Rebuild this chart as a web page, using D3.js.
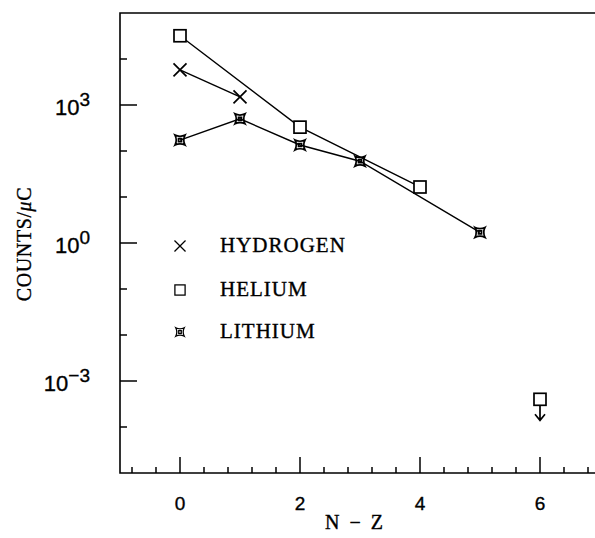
<!DOCTYPE html>
<html>
<head>
<meta charset="utf-8">
<script src="https://cdn.jsdelivr.net/npm/d3@7"></script>
<style>
  body { margin: 0; background: #fff; }
  svg { display: block; }
  text { fill: #000; stroke: #000; stroke-width: 0.35px; }
</style>
</head>
<body>
<div id="chart"></div>
<script>
// N - Z values and counts per microcoulomb
const hydrogenX = [0, 1];
const hydrogenY = [5800, 1500];
const heliumX = [0, 2, 4];
const heliumY = [32000, 330, 16.5];
const heliumLimitX = [6];
const heliumLimitY = [4e-4];
const lithiumX = [0, 1, 2, 3, 5];
const lithiumY = [173, 500, 135, 60, 1.7];

const xTicks = [0, 2, 4, 6];
const yLabelExps = [3, 0, -3];
const legendNames = ["HYDROGEN", "HELIUM", "LITHIUM"];

const width = 595, height = 538;
const margin = {top: 13, right: -5, bottom: 65, left: 120};
const innerWidth = width - margin.left - margin.right;
const innerHeight = height - margin.top - margin.bottom;

const svg = d3.select("#chart").append("svg")
  .attr("width", width)
  .attr("height", height);

const g = svg.append("g")
  .attr("transform", `translate(${margin.left},${margin.top})`);

const xScale = d3.scaleLinear().domain([-1, 7]).range([0, innerWidth]);
const yScale = d3.scaleLog().domain([1e-5, 1e5]).range([innerHeight, 0]);

// frame: left, bottom and top (right side runs off the page)
g.append("path")
  .attr("d", `M${innerWidth},0H0V${innerHeight}H${innerWidth}`)
  .attr("fill", "none")
  .attr("stroke", "#000")
  .attr("stroke-width", 1.6);

// x ticks: minor every 0.4, major at even numbers
const xMinor = d3.range(-0.8, 7.01, 0.4).map(v => Math.round(v * 10) / 10);
g.selectAll(".xtick")
  .data(xMinor)
  .enter().append("line")
  .attr("x1", d => xScale(d)).attr("x2", d => xScale(d))
  .attr("y1", innerHeight)
  .attr("y2", d => innerHeight - (Math.abs(d % 2) < 1e-6 ? 16 : 6))
  .attr("stroke", "#000").attr("stroke-width", 1.5);

g.selectAll(".xlabel")
  .data(xTicks)
  .enter().append("text")
  .attr("x", d => xScale(d))
  .attr("y", innerHeight + 37)
  .attr("text-anchor", "middle")
  .style("font", "19px 'Liberation Sans', sans-serif")
  .text(d => d);

// y ticks: every decade, major every third
const yDecades = d3.range(-4, 5);
g.selectAll(".ytick")
  .data(yDecades)
  .enter().append("line")
  .attr("x1", 0)
  .attr("x2", d => d % 3 === 0 ? 17 : 7)
  .attr("y1", d => yScale(Math.pow(10, d)))
  .attr("y2", d => yScale(Math.pow(10, d)))
  .attr("stroke", "#000").attr("stroke-width", 1.5);

const yl = g.selectAll(".ylabel")
  .data(yLabelExps)
  .enter().append("text")
  .attr("x", -30)
  .attr("y", d => yScale(Math.pow(10, d)) + 10)
  .attr("text-anchor", "end")
  .style("font", "22px 'Liberation Sans', sans-serif");
yl.append("tspan").text("10");
yl.append("tspan").attr("dy", -9).style("font-size", "19px")
  .text(d => d < 0 ? "\u2212" + (-d) : d);

// axis titles
svg.append("text")
  .attr("x", 354)
  .attr("y", 529)
  .attr("text-anchor", "middle")
  .attr("xml:space", "preserve")
  .style("white-space", "pre")
  .style("font", "20px 'Liberation Serif', serif")
  .text("N  \u2212  Z");

svg.append("text")
  .attr("transform", `translate(31,244) rotate(-90)`)
  .attr("text-anchor", "middle")
  .style("font", "20px 'Liberation Serif', serif")
  .style("letter-spacing", "0.6px")
  .html("COUNTS/<tspan font-style='italic'>\u03bc</tspan>C");

// markers
const sym = {
  cross: (s, x, y) => s.append("path")
    .attr("d", `M${x-6.5},${y-6.5}L${x+6.5},${y+6.5}M${x-6.5},${y+6.5}L${x+6.5},${y-6.5}`),
  square: (s, x, y) => s.append("rect")
    .attr("x", x - 6).attr("y", y - 6).attr("width", 12).attr("height", 12)
    .attr("fill", "#fff"),
  star: (s, x, y) => s.append("path")
    .attr("d", `M${x-5},${y-5}Q${x},${y-2.5} ${x+5},${y-5}Q${x+2.5},${y} ${x+5},${y+5}` +
               `Q${x},${y+2.5} ${x-5},${y+5}Q${x-2.5},${y} ${x-5},${y-5}Z` +
               `M${x-1.5},${y-1.5}h3v3h-3Z`)
    .attr("fill", "none")
};

const line = d3.line().x(d => xScale(d[0])).y(d => yScale(d[1]));

function series(xs, ys, kind) {
  const pts = xs.map((x, i) => [x, ys[i]]);
  g.append("path")
    .attr("d", line(pts))
    .attr("fill", "none").attr("stroke", "#000").attr("stroke-width", 1.4);
  pts.forEach(p => {
    sym[kind](g, xScale(p[0]), yScale(p[1]))
      .attr("stroke", "#000").attr("stroke-width", 1.7);
  });
}

series(heliumX, heliumY, "square");
series(lithiumX, lithiumY, "star");
series(hydrogenX, hydrogenY, "cross");

// helium upper limit with arrow
heliumLimitX.forEach((x, i) => {
  const px = xScale(x), py = yScale(heliumLimitY[i]);
  g.append("path")
    .attr("d", `M${px},${py}V${py+21}M${px-5},${py+15}L${px},${py+21}L${px+5},${py+15}`)
    .attr("fill", "none").attr("stroke", "#000").attr("stroke-width", 1.7);
  sym.square(g, px, py).attr("stroke", "#000").attr("stroke-width", 1.7);
});

// legend
const kinds = ["cross", "square", "star"];
const legendY = [246, 290, 332];
legendNames.forEach((name, i) => {
  sym[kinds[i]](svg, 180, legendY[i]).attr("stroke", "#000").attr("stroke-width", 1.5)
    .attr("transform", `translate(180,${legendY[i]}) scale(0.85) translate(-180,${-legendY[i]})`);
  svg.append("text")
    .attr("x", 220)
    .attr("y", legendY[i] + 6)
    .style("font", "21px 'Liberation Serif', serif")
    .style("letter-spacing", "1px")
    .text(name);
});
</script>
</body>
</html>
